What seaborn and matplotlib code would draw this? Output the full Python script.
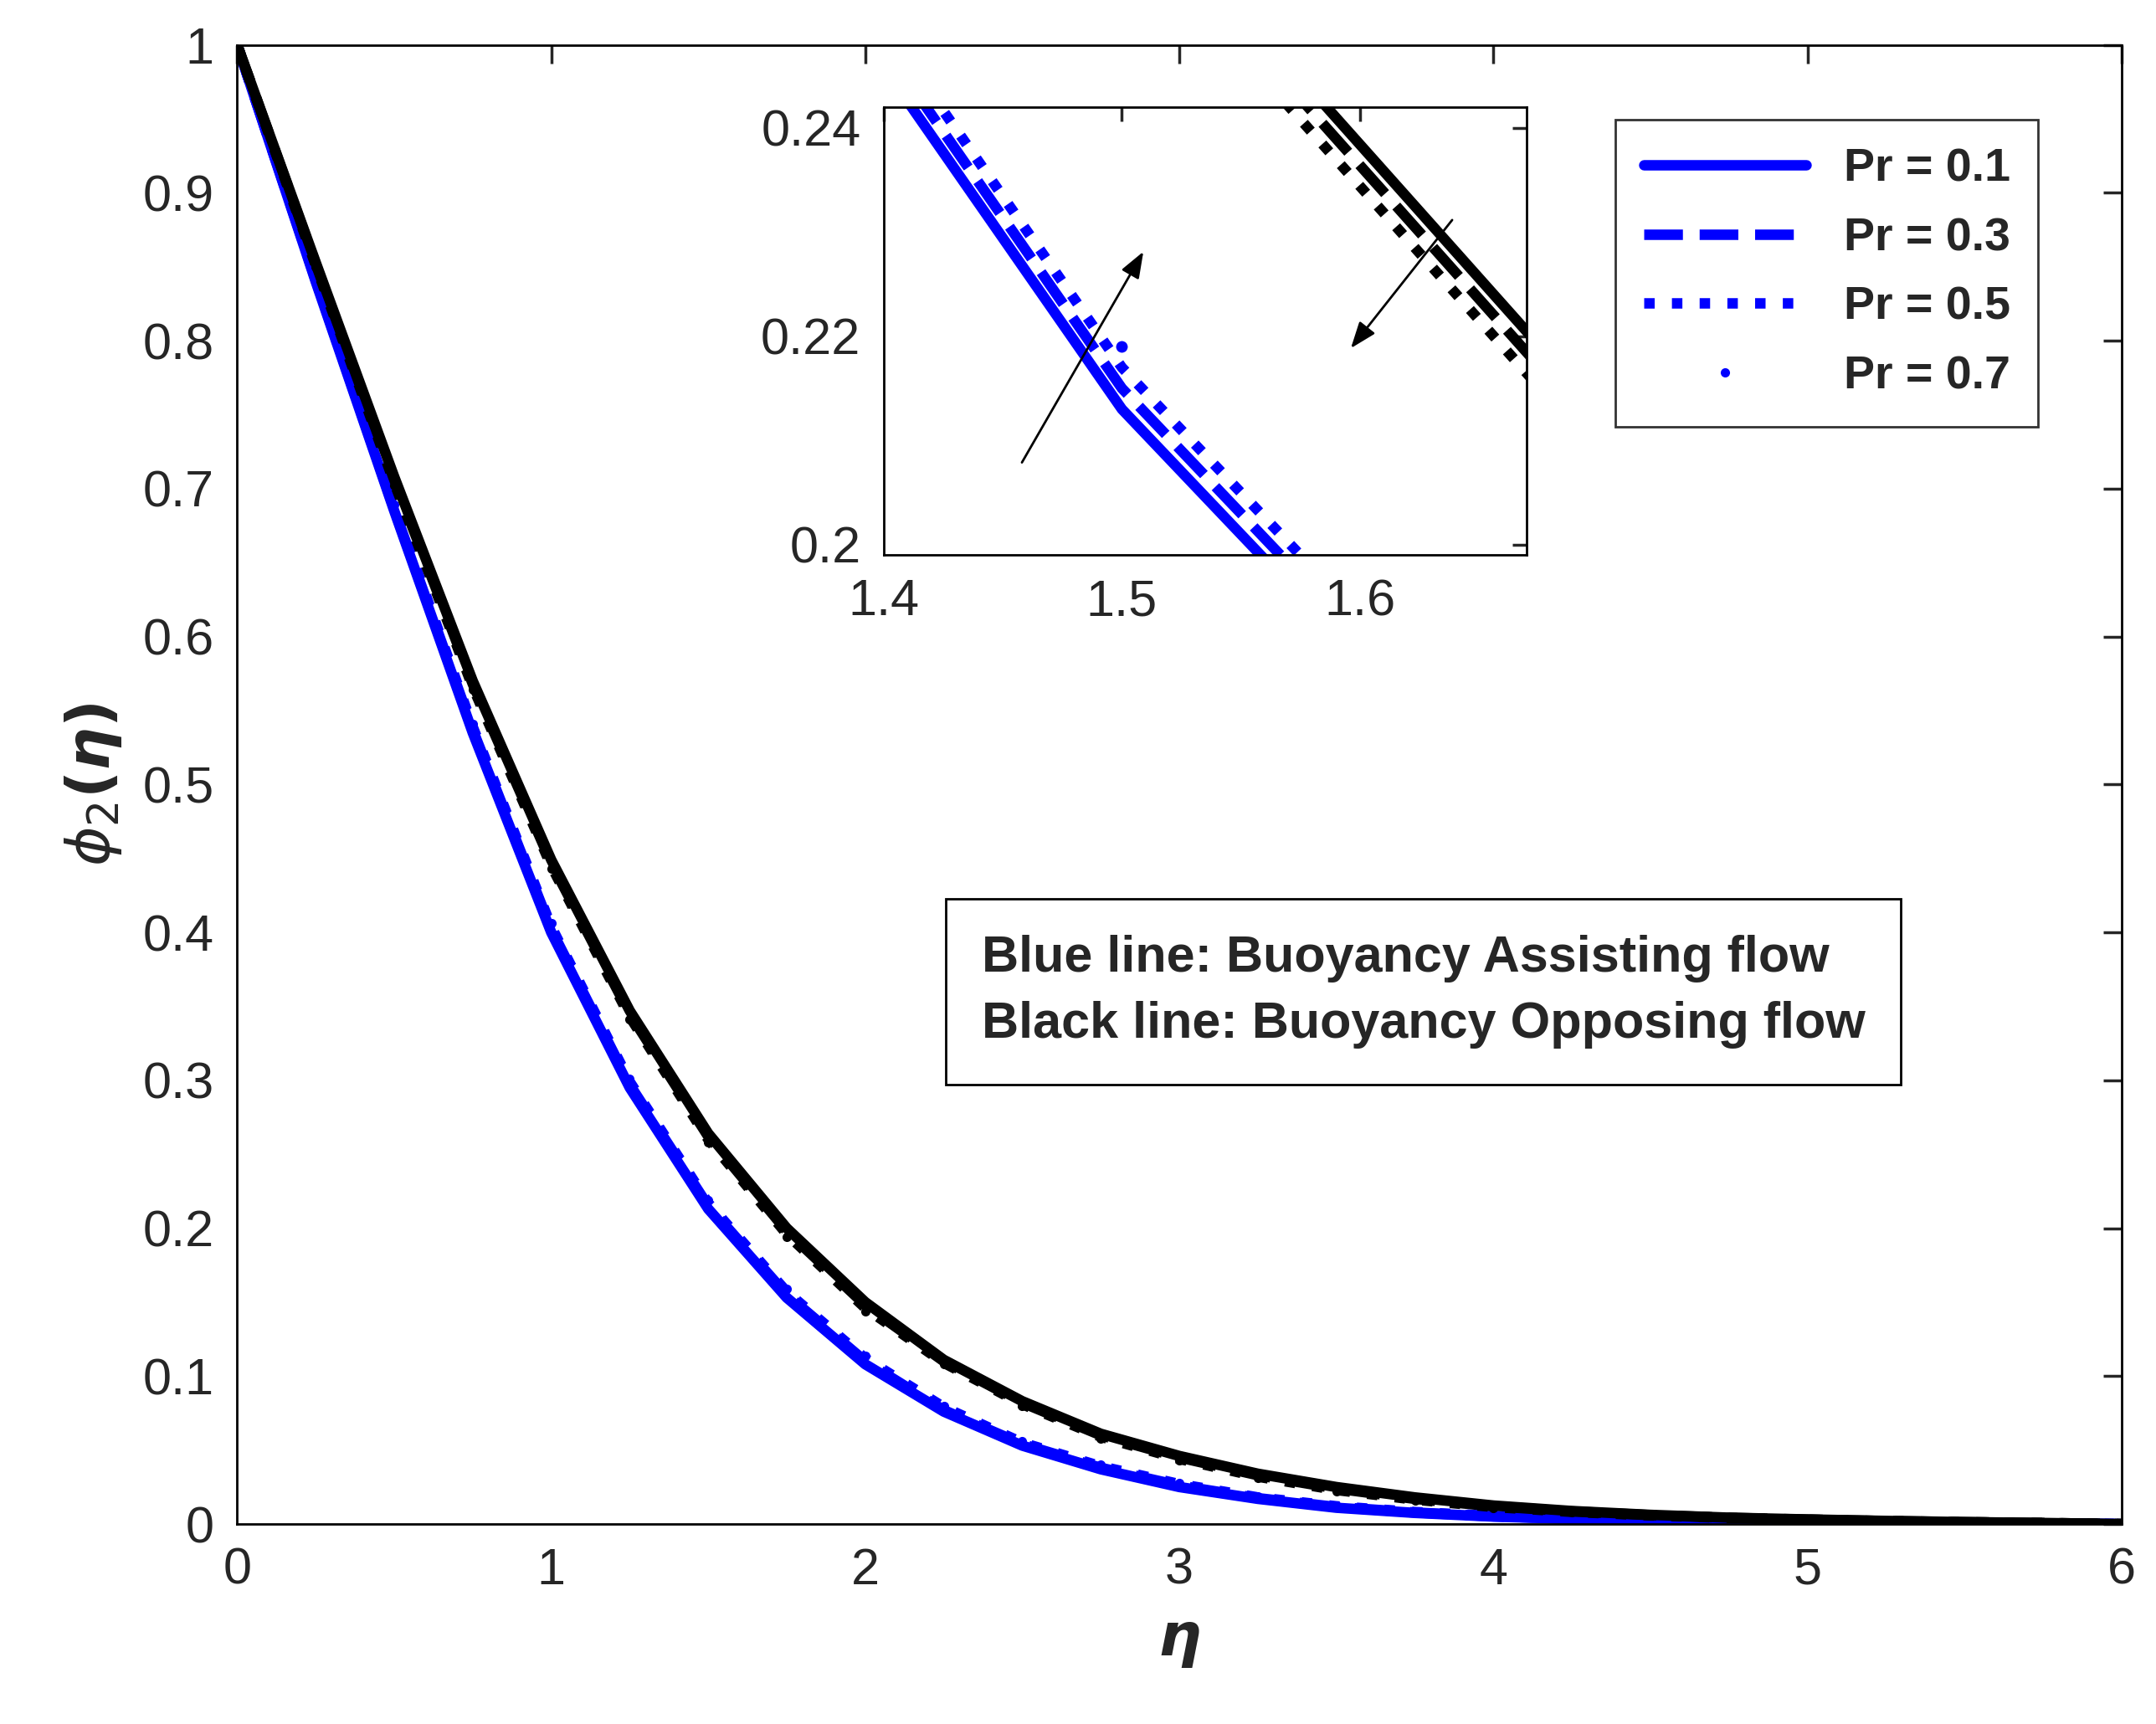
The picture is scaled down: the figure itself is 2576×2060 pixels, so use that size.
import numpy as np
import matplotlib
matplotlib.use("Agg")
import matplotlib.pyplot as plt
import seaborn as sns

sns.set_theme(style="white")
plt.rcParams['font.family'] = ['Arial', 'Liberation Sans', 'DejaVu Sans']

eta = [0, 0.25, 0.5, 0.75, 1.0, 1.25, 1.5, 1.75, 2.0, 2.25, 2.5, 2.75, 3.0,
       3.25, 3.5, 3.75, 4.0, 4.25, 4.5, 4.75, 5.0, 5.25, 5.5, 5.75, 6.0]

# Buoyancy assisting flow (blue)
blue_01 = [1, 0.840, 0.685, 0.535, 0.400, 0.295, 0.2130, 0.153, 0.108, 0.076, 0.053, 0.037, 0.025,
           0.017, 0.011, 0.0075, 0.005, 0.0035, 0.0025, 0.0017, 0.0012, 0.0008, 0.0005, 0.0003, 0.0]
blue_03 = [1, 0.841, 0.686, 0.537, 0.402, 0.297, 0.2150, 0.155, 0.110, 0.077, 0.054, 0.038, 0.026,
           0.0175, 0.0115, 0.0078, 0.0052, 0.0036, 0.0026, 0.0018, 0.0012, 0.0008, 0.0005, 0.0003, 0.0]
blue_05 = [1, 0.842, 0.688, 0.539, 0.404, 0.299, 0.2170, 0.157, 0.112, 0.079, 0.055, 0.039, 0.027,
           0.018, 0.012, 0.0081, 0.0054, 0.0037, 0.0027, 0.0018, 0.0013, 0.0008, 0.0005, 0.0003, 0.0]
blue_07 = [1, 0.843, 0.689, 0.541, 0.406, 0.301, 0.2190, 0.159, 0.114, 0.080, 0.056, 0.040, 0.028,
           0.0185, 0.0125, 0.0084, 0.0056, 0.0038, 0.0028, 0.0019, 0.0013, 0.0009, 0.0006, 0.0003, 0.0]

# Buoyancy opposing flow (black)
black_01 = [1, 0.853, 0.708, 0.570, 0.449, 0.347, 0.264, 0.200, 0.150, 0.111, 0.083, 0.061, 0.046,
            0.034, 0.025, 0.018, 0.0125, 0.0088, 0.0062, 0.0043, 0.0031, 0.0021, 0.0013, 0.0007, 0.0]
black_03 = [1, 0.852, 0.706, 0.568, 0.447, 0.345, 0.262, 0.198, 0.148, 0.110, 0.082, 0.060, 0.045,
            0.033, 0.024, 0.017, 0.012, 0.0085, 0.006, 0.0042, 0.003, 0.002, 0.0013, 0.0007, 0.0]
black_05 = [1, 0.851, 0.704, 0.566, 0.445, 0.343, 0.260, 0.196, 0.146, 0.109, 0.081, 0.059, 0.044,
            0.032, 0.023, 0.0165, 0.0115, 0.0082, 0.0058, 0.0041, 0.0029, 0.002, 0.0012, 0.0007, 0.0]
black_07 = [1, 0.850, 0.702, 0.564, 0.443, 0.341, 0.258, 0.194, 0.144, 0.108, 0.080, 0.058, 0.043,
            0.031, 0.022, 0.016, 0.011, 0.008, 0.0056, 0.004, 0.0028, 0.0019, 0.0012, 0.0006, 0.0]

labels = ["Pr = 0.1", "Pr = 0.3", "Pr = 0.5", "Pr = 0.7"]
blues = [blue_01, blue_03, blue_05, blue_07]
blacks = [black_01, black_03, black_05, black_07]
styles = ["-", "--", ":", None]

fig = plt.figure(figsize=(12.88, 10.3), dpi=200)
ax = fig.add_axes([0.11, 0.116, 0.874, 0.858])
ins = fig.add_axes([0.41, 0.678, 0.298, 0.26])

def draw(a, lw, ms):
    for ys, col, lab_on in [(blues, "blue", True), (blacks, "black", False)]:
        for y, ls, lab in zip(ys, styles, labels):
            lab = lab if (lab_on and a is ax) else None
            if ls is None:
                sns.lineplot(x=eta, y=y, ax=a, color=col, linestyle="none", marker="o",
                             markersize=ms, markeredgewidth=0, label=lab)
            else:
                sns.lineplot(x=eta, y=y, ax=a, color=col, linestyle=ls, linewidth=lw, label=lab)

draw(ax, 4.5, 4)
draw(ins, 4.5, 5)

ax.set_xlim(0, 6)
ax.set_ylim(0, 1)
ax.set_xticks(range(0, 7))
ax.set_yticks(np.arange(0, 1.01, 0.1))
ax.set_yticklabels(["0"] + [f"{v:.1f}" for v in np.arange(0.1, 0.95, 0.1)] + ["1"])
ax.tick_params(labelsize=22, direction="in", length=8, top=True, right=True, pad=10)
ax.set_xlabel(r"$\boldsymbol{\eta}$", fontsize=26, labelpad=8)
ax.set_ylabel(r"$\boldsymbol{\phi_2(\eta)}$", fontsize=26, labelpad=8)
for s in ax.spines.values():
    s.set_color("black"); s.set_linewidth(1)

leg = ax.legend(loc="upper right", bbox_to_anchor=(0.968, 0.965), fontsize=20, frameon=True,
                fancybox=False, edgecolor="black", handlelength=3.5, borderpad=0.6,
                labelspacing=0.55)
for t in leg.get_texts():
    t.set_fontweight("bold")
leg.get_frame().set_linewidth(1)

ax.text(0.395, 0.36, "Blue line: Buoyancy Assisting flow\nBlack line: Buoyancy Opposing flow",
        transform=ax.transAxes, fontsize=22, fontweight="bold", va="center", linespacing=1.5,
        bbox=dict(boxstyle="square,pad=0.7", fc="white", ec="black", lw=1))

ins.set_xlim(1.4, 1.67)
ins.set_ylim(0.199, 0.242)
ins.set_xticks([1.4, 1.5, 1.6])
ins.set_yticks([0.2, 0.22, 0.24])
ins.set_yticklabels(["0.2", "0.22", "0.24"])
ins.tick_params(labelsize=22, direction="in", length=6, top=True, right=True, pad=10)
ins.set_xlabel(""); ins.set_ylabel("")
for s in ins.spines.values():
    s.set_color("black"); s.set_linewidth(1)
ins.annotate("", xy=(1.51, 0.2285), xytext=(1.457, 0.2075),
             arrowprops=dict(arrowstyle="-|>,head_length=0.8,head_width=0.3", color="black", lw=1))
ins.annotate("", xy=(1.595, 0.2185), xytext=(1.64, 0.2315),
             arrowprops=dict(arrowstyle="-|>,head_length=0.8,head_width=0.3", color="black", lw=1))

fig.savefig("out.png", dpi=200, facecolor="white")
